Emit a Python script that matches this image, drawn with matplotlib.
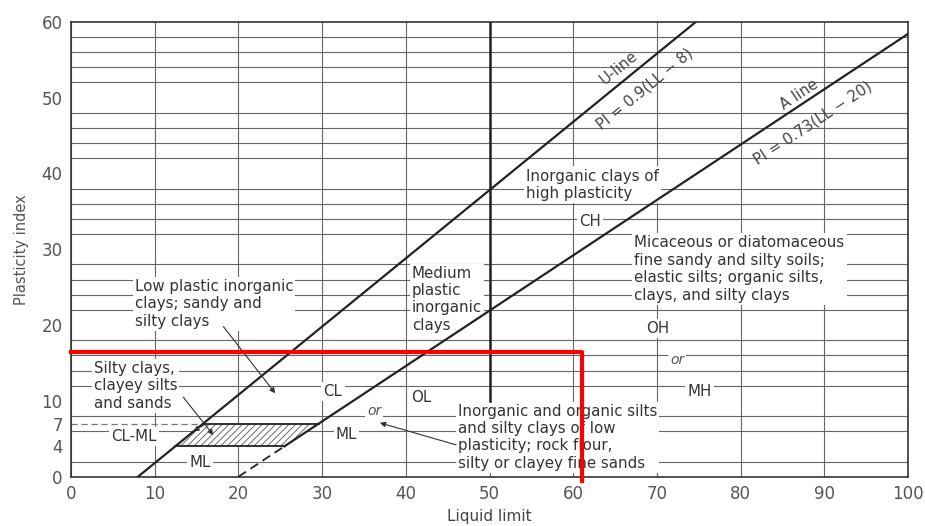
import matplotlib.pyplot as plt
import numpy as np

plt.rcParams["font.family"] = ["DejaVu Sans"]
plt.rcParams["hatch.linewidth"] = 0.6

# Casagrande plasticity chart (LL vs PI)
x_ticks = [0, 10, 20, 30, 40, 50, 60, 70, 80, 90, 100]
y_ticks = [0, 4, 7, 10, 20, 30, 40, 50, 60]

u_slope, u_ll0 = 0.9, 8      # U-line: PI = 0.9(LL - 8)
a_slope, a_ll0 = 0.73, 20    # A-line: PI = 0.73(LL - 20)
clml_band = [4, 7]           # CL-ML zone limits on PI
ll_split = 50                # low / high plasticity boundary
ll_split_from = 10           # PI where the LL=50 line starts

highlight_ll = 61
highlight_pi = 16.4

zone_labels = [
    (54.4, 38.5, "Inorganic clays of\nhigh plasticity", "left"),
    (62.0, 33.6, "CH", "center"),
    (67.3, 27.4, "Micaceous or diatomaceous\nfine sandy and silty soils;\n"
                 "elastic silts; organic silts,\nclays, and silty clays", "left"),
    (70.1, 19.5, "OH", "center"),
    (75.1, 11.3, "MH", "center"),
    (40.7, 23.4, "Medium\nplastic\ninorganic\nclays", "left"),
    (7.6, 22.8, "Low plastic inorganic\nclays; sandy and\nsilty clays", "left"),
    (2.7, 12.0, "Silty clays,\nclayey silts\nand sands", "left"),
    (7.5, 5.3, "CL-ML", "center"),
    (15.4, 1.9, "ML", "center"),
    (31.3, 11.2, "CL", "center"),
    (32.9, 5.6, "ML", "center"),
    (41.8, 10.5, "OL", "center"),
    (46.2, 5.2, "Inorganic and organic silts\nand silty clays of low\n"
                "plasticity; rock flour,\nsilty or clayey fine sands", "left"),
]
or_labels = [(72.4, 15.4), (36.2, 8.7)]

# (from, to) pairs for the leader arrows
arrows = [
    ((18.2, 19.8), (24.4, 11.0)),
    ((13.4, 10.5), (17.0, 5.5)),
    ((16.0, 6.9), (14.6, 6.0)),
    ((46.0, 4.2), (36.9, 7.1)),
]

TEXT = "#333333"
LINE = "#222222"
GRID = "#666666"

fig = plt.figure(figsize=(9.25, 5.26), dpi=100)
ax = fig.add_axes([0.0768, 0.0937, 0.9049, 0.865])
ax.set_xlim(0, 100)
ax.set_ylim(0, 60)

# grid: every 10 on LL, every 2 on PI
ax.set_xticks(x_ticks)
ax.set_yticks(y_ticks)
ax.set_yticks(np.arange(0, 61, 2), minor=True)
ax.xaxis.grid(True, which="major", color=GRID, lw=0.8)
ax.yaxis.grid(True, which="minor", color=GRID, lw=0.8)
ax.set_axisbelow(True)
ax.tick_params(which="both", length=0, pad=6, labelsize=12, labelcolor="#555555")
for sp in ax.spines.values():
    sp.set_color("#333333")
    sp.set_linewidth(1.2)

# U-line
u_top = u_ll0 + 60 / u_slope
ll = np.array([u_ll0, u_top])
ax.plot(ll, u_slope * (ll - u_ll0), color=LINE, lw=1.6, zorder=3)

# A-line, dashed below the CL-ML band
a_lo = a_ll0 + clml_band[0] / a_slope
ll = np.array([a_lo, 100])
ax.plot(ll, a_slope * (ll - a_ll0), color=LINE, lw=1.6, zorder=3)
ll = np.array([a_ll0, a_lo])
ax.plot(ll, a_slope * (ll - a_ll0), color=LINE, lw=1.3, ls=(0, (5, 3)), zorder=3)

# LL = 50 divide
ax.plot([ll_split, ll_split], [ll_split_from, 60], color=LINE, lw=1.8, zorder=3)

# CL-ML hatched band between U- and A-lines
pi_lo, pi_hi = clml_band
band_x = [u_ll0 + pi_lo / u_slope, a_ll0 + pi_lo / a_slope,
          a_ll0 + pi_hi / a_slope, u_ll0 + pi_hi / u_slope]
band_y = [pi_lo, pi_lo, pi_hi, pi_hi]
ax.fill(band_x, band_y, facecolor="white", edgecolor="#555555", hatch="/////",
        lw=0, zorder=2.6)
ax.plot(band_x[:2], band_y[:2], color=LINE, lw=1.3, zorder=3)
ax.plot(band_x[2:], band_y[2:], color=LINE, lw=1.3, zorder=3)
ax.plot([0, band_x[3]], [pi_hi, pi_hi], color="#777777", lw=0.9,
        ls=(0, (5, 3)), zorder=2)

# line equations along the U- and A-lines
u_ang = np.degrees(np.arctan(u_slope))
a_ang = np.degrees(np.arctan(a_slope))
rot = dict(transform_rotates_text=True, ha="center", va="center",
           rotation_mode="anchor", fontsize=10.8, color="#444444")
ax.text(65.5, 54.0, "U-line", rotation=u_ang, **rot)
ax.text(68.6, 51.2, "PI = 0.9(LL \u2212 8)", rotation=u_ang, **rot)
ax.text(87.0, 50.4, "A line", rotation=a_ang, **rot)
ax.text(88.6, 46.7, "PI = 0.73(LL \u2212 20)", rotation=a_ang, **rot)

box = dict(facecolor="white", edgecolor="none", pad=1.5)
for x, y, s, ha in zone_labels:
    ax.text(x, y, s, ha=ha, va="center", fontsize=10.8, color=TEXT,
            linespacing=1.2, bbox=box, zorder=2.5)
for x, y in or_labels:
    ax.text(x, y, "or", ha="center", va="center", fontsize=10, style="italic",
            color="#555555", bbox=box, zorder=2.5)

for (x0, y0), (x1, y1) in arrows:
    ax.annotate("", xy=(x1, y1), xytext=(x0, y0),
                arrowprops=dict(arrowstyle="-|>", color=TEXT, lw=0.8,
                                mutation_scale=8, shrinkA=0, shrinkB=0),
                zorder=3)

# highlighted region
ax.plot([0, highlight_ll, highlight_ll], [highlight_pi, highlight_pi, -0.5],
        color="#ff0000", lw=3, clip_on=False, zorder=4)

ax.set_xlabel("Liquid limit", fontsize=11, color="#444444", va="top")
ax.set_ylabel("Plasticity index", fontsize=10.5, color="#555555")
ax.xaxis.set_label_coords(0.5, -0.072)
ax.yaxis.set_label_coords(-0.050, 0.5)

fig.savefig("out.png", dpi=100, facecolor="white")
